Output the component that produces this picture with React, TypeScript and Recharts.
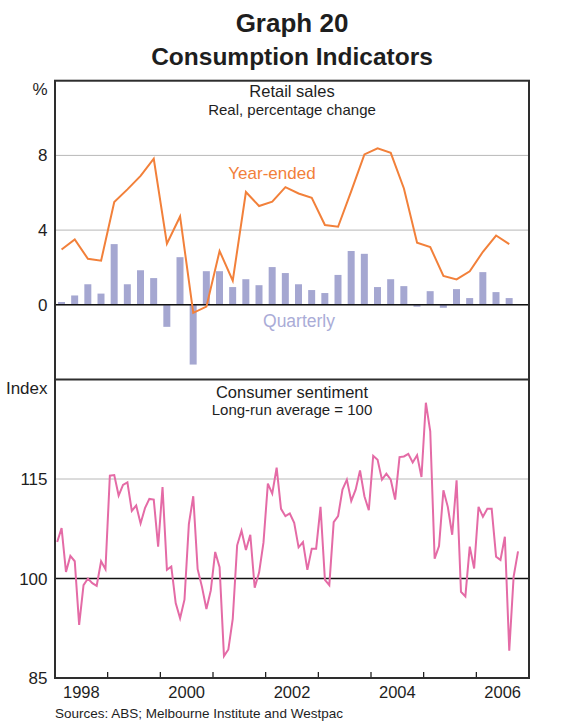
import React from 'react';
import { ComposedChart, LineChart, Bar, Line, XAxis, YAxis, CartesianGrid, ReferenceLine } from 'recharts';

// ---------- DATA ----------
const START_YEAR = 1998;
const END_YEAR = 2007;

// Quarterly categories: 1998 Q1 ... 2006 Q3
const quarterLabels: string[] = [
  '1998-Q1', '1998-Q2', '1998-Q3', '1998-Q4',
  '1999-Q1', '1999-Q2', '1999-Q3', '1999-Q4',
  '2000-Q1', '2000-Q2', '2000-Q3', '2000-Q4',
  '2001-Q1', '2001-Q2', '2001-Q3', '2001-Q4',
  '2002-Q1', '2002-Q2', '2002-Q3', '2002-Q4',
  '2003-Q1', '2003-Q2', '2003-Q3', '2003-Q4',
  '2004-Q1', '2004-Q2', '2004-Q3', '2004-Q4',
  '2005-Q1', '2005-Q2', '2005-Q3', '2005-Q4',
  '2006-Q1', '2006-Q2', '2006-Q3',
];

// Retail sales, quarterly % change
const quarterlyChange: number[] = [
  0.15, 0.5, 1.1, 0.6,
  3.25, 1.1, 1.85, 1.43,
  -1.18, 2.55, -3.2, 1.8,
  1.8, 0.95, 1.37, 1.05,
  2.02, 1.7, 1.1, 0.79,
  0.63, 1.6, 2.88, 2.73,
  0.95, 1.37, 1.0, -0.1,
  0.73, -0.16, 0.84, 0.36,
  1.75, 0.68, 0.36,
];

// Retail sales, year-ended % change
const yearEnded: number[] = [
  2.96, 3.5, 2.46, 2.36,
  5.5, 6.18, 6.9, 7.82,
  3.27, 4.73, -0.43, -0.1,
  2.88, 1.29, 6.04, 5.29,
  5.52, 6.3, 5.96, 5.73,
  4.27, 4.18, 6.09, 8.05,
  8.38, 8.14, 6.23, 3.32,
  3.09, 1.55, 1.36, 1.79,
  2.84, 3.71, 3.25,
];

// Consumer sentiment, monthly, Jan 1998 ... Oct 2006
const sentiment: number[] = [
  105.5, 107.6, 101.0, 103.4, 102.6, 93.0, 99.0, 100.0, 99.3, 98.9, 102.6, 101.4,
  115.5, 115.6, 112.5, 114.1, 114.5, 110.2, 111.0, 108.3, 110.6, 112.0, 111.9, 104.8,
  113.8, 101.3, 101.8, 96.3, 94.0, 96.8, 108.2, 112.4, 101.4, 98.7, 95.4, 98.2,
  104.0, 101.7, 88.3, 89.3, 93.9, 105.0, 107.2, 104.3, 106.6, 98.6, 100.9, 105.4,
  114.3, 112.8, 116.7, 110.5, 109.4, 109.8, 108.4, 104.7, 105.5, 101.3, 104.5, 104.5,
  110.8, 99.8, 99.0, 108.5, 109.4, 113.4, 114.9, 111.7, 113.4, 116.3, 112.4, 110.3,
  118.5, 117.9, 114.9, 115.8, 114.9, 111.9, 118.3, 118.4, 118.8, 117.5, 118.6, 115.3,
  126.5, 122.2, 103.0, 104.9, 113.3, 110.8, 106.6, 114.8, 98.0, 97.3, 104.8, 101.5,
  110.8, 109.3, 110.5, 110.5, 103.3, 102.8, 106.3, 89.1, 100.3, 104.1,
];

// Month categories (YYYY-MM), one per sentiment value
const monthLabels: string[] = sentiment.map((_, i) => {
  const y = START_YEAR + Math.floor(i / 12);
  const m = (i % 12) + 1;
  return `${y}-${m < 10 ? '0' + m : m}`;
});

const yearLabelTicks: number[] = [1998.5, 2000.5, 2002.5, 2004.5, 2006.5];
const yearBoundaries: number[] = [1999, 2000, 2001, 2002, 2003, 2004, 2005, 2006];
const retailTicks: number[] = [0, 4, 8, 12];
const sentimentTicks: number[] = [85, 100, 115, 130];

// ---------- derived tables ----------
const quarterToTime = (lbl: string) => {
  const [y, q] = lbl.split('-Q');
  return Number(y) + (Number(q) - 1) * 0.25 + 0.125;
};
const monthToTime = (lbl: string) => {
  const [y, m] = lbl.split('-');
  return Number(y) + (Number(m) - 1) / 12 + 1 / 24;
};

const retailData = quarterLabels.map((lbl, i) => ({
  label: lbl,
  t: quarterToTime(lbl),
  q: quarterlyChange[i],
  ye: yearEnded[i],
}));

const sentimentData = monthLabels.map((lbl, i) => ({
  label: lbl,
  t: monthToTime(lbl),
  s: sentiment[i],
}));

// ---------- styling ----------
const FONT = '"Liberation Sans", Arial, Helvetica, sans-serif';
const TEXT = '#1e1e1e';
const ORANGE = '#f2803a';
const BAR = '#a5a7d1';
const PINK = '#e46ba6';
const GRID = '#b8b8b8';
const FRAME = '#2e2e2e';

const W = 577;
const PLOT_L = 55;
const PLOT_R = 529;
const PLOT_T = 80.7;
const MID = 379.5;
const PLOT_B = 678;

const makeYTick = (side: 'l' | 'r', topVal: number, topLabel: string) => (props: any) => {
  const { x, y, payload } = props;
  const isTop = payload.value === topVal;
  const label = isTop ? topLabel : String(payload.value);
  const dy = isTop ? 14 : 6;
  return (
    <text
      x={side === 'l' ? x - 7.5 : x + 6}
      y={y + dy}
      textAnchor={side === 'l' ? 'end' : 'start'}
      fontSize={17}
      fontFamily={FONT}
      fill={TEXT}
    >
      {label}
    </text>
  );
};

const XYearTick = (props: any) => {
  const { x, y, payload } = props;
  return (
    <text x={x} y={y + 20} textAnchor="middle" fontSize={16.5} fontFamily={FONT} fill={TEXT}>
      {String(Math.floor(payload.value))}
    </text>
  );
};

export default function App() {
  const topH = 390;
  const botTop = 370;
  const botH = 723 - botTop;
  return (
    <div style={{ position: 'absolute', left: 0, top: 0, width: W, height: 723, background: '#fff', fontFamily: FONT }}>
      {/* Top panel: retail sales */}
      <div style={{ position: 'absolute', left: 0, top: 0 }}>
        <ComposedChart
          width={W}
          height={topH}
          data={retailData}
          margin={{ top: PLOT_T, right: 0, bottom: topH - MID, left: 0 }}
        >
          <CartesianGrid vertical={false} stroke={GRID} strokeWidth={1} />
          <XAxis dataKey="t" type="number" domain={[START_YEAR, END_YEAR]} hide allowDataOverflow />
          <YAxis
            domain={[-4, 12]}
            ticks={retailTicks}
            width={PLOT_L}
            axisLine={false}
            tickLine={false}
            tickSize={0}
            tickMargin={0}
            interval={0}
            tick={makeYTick('l', 12, '%')}
          />
          <YAxis
            yAxisId="r"
            orientation="right"
            domain={[-4, 12]}
            ticks={retailTicks}
            width={W - PLOT_R}
            axisLine={false}
            tickLine={false}
            tickSize={0}
            tickMargin={0}
            interval={0}
            tick={makeYTick('r', 12, '%')}
          />
          <Bar dataKey="q" fill={BAR} barSize={7} isAnimationActive={false} />
          <ReferenceLine y={0} stroke="#111" strokeWidth={1.5} />
          <Line
            dataKey="ye"
            type="linear"
            stroke={ORANGE}
            strokeWidth={2}
            dot={false}
            activeDot={false}
            isAnimationActive={false}
          />
        </ComposedChart>
      </div>

      {/* Bottom panel: consumer sentiment */}
      <div style={{ position: 'absolute', left: 0, top: botTop }}>
        <LineChart
          width={W}
          height={botH}
          data={sentimentData}
          margin={{ top: MID - botTop, right: 0, bottom: 15, left: 0 }}
        >
          <CartesianGrid vertical={false} stroke={GRID} strokeWidth={1} />
          <XAxis
            dataKey="t"
            type="number"
            domain={[START_YEAR, END_YEAR]}
            ticks={yearLabelTicks}
            interval={0}
            height={723 - 15 - PLOT_B}
            axisLine={false}
            tickLine={false}
            tickSize={0}
            tickMargin={0}
            tick={<XYearTick />}
            allowDataOverflow
          />
          <YAxis
            domain={[85, 130]}
            ticks={sentimentTicks}
            width={PLOT_L}
            axisLine={false}
            tickLine={false}
            tickSize={0}
            tickMargin={0}
            interval={0}
            tick={makeYTick('l', 130, 'Index')}
          />
          <YAxis
            yAxisId="r"
            orientation="right"
            domain={[85, 130]}
            ticks={sentimentTicks}
            width={W - PLOT_R}
            axisLine={false}
            tickLine={false}
            tickSize={0}
            tickMargin={0}
            interval={0}
            tick={makeYTick('r', 130, 'Index')}
          />
          <ReferenceLine y={100} stroke="#111" strokeWidth={1.5} />
          {yearBoundaries.map((yr) => (
            <ReferenceLine
              key={yr}
              segment={[{ x: yr, y: 85 }, { x: yr, y: 85.9 }]}
              stroke="#111"
              strokeWidth={1.2}
            />
          ))}
          <Line
            dataKey="s"
            type="linear"
            stroke={PINK}
            strokeWidth={2}
            dot={false}
            activeDot={false}
            isAnimationActive={false}
          />
        </LineChart>
      </div>

      {/* Frame and texts */}
      <svg
        width={W}
        height={723}
        style={{ position: 'absolute', left: 0, top: 0, pointerEvents: 'none' }}
        fontFamily={FONT}
      >
        <rect
          x={PLOT_L}
          y={PLOT_T}
          width={PLOT_R - PLOT_L}
          height={PLOT_B - PLOT_T}
          fill="none"
          stroke={FRAME}
          strokeWidth={2}
        />
        <line x1={PLOT_L} x2={PLOT_R} y1={MID} y2={MID} stroke={FRAME} strokeWidth={2} />

        <text x={292} y={31.5} textAnchor="middle" fontSize={26} fontWeight="bold" fill={TEXT}>
          Graph 20
        </text>
        <text x={292} y={65} textAnchor="middle" fontSize={24.5} fontWeight="bold" fill={TEXT}>
          Consumption Indicators
        </text>

        <text x={292} y={97} textAnchor="middle" fontSize={16.5} fill={TEXT}>
          Retail sales
        </text>
        <text x={292} y={114.5} textAnchor="middle" fontSize={15} fill={TEXT}>
          Real, percentage change
        </text>
        <text x={272} y={179} textAnchor="middle" fontSize={17} fill={ORANGE}>
          Year-ended
        </text>
        <text x={299} y={327} textAnchor="middle" fontSize={17.5} fill="#aaacd7">
          Quarterly
        </text>

        <text x={292} y={397.5} textAnchor="middle" fontSize={16.5} fill={TEXT}>
          Consumer sentiment
        </text>
        <text x={292} y={415} textAnchor="middle" fontSize={15} fill={TEXT}>
          Long-run average = 100
        </text>

        <text x={55} y={717.5} fontSize={13.5} fill={TEXT}>
          Sources: ABS; Melbourne Institute and Westpac
        </text>
      </svg>
    </div>
  );
}
